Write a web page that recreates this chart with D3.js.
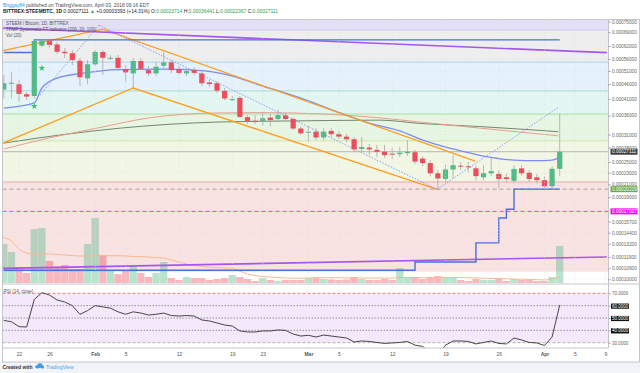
<!DOCTYPE html>
<html><head><meta charset="utf-8">
<script src="https://d3js.org/d3.v7.min.js"></script>
<style>
html,body{margin:0;padding:0;background:#fff;}
svg{display:block;font-family:"Liberation Sans",Arial,Helvetica,sans-serif;}
</style></head><body>
<svg id="chart" width="640" height="373"></svg>
<script>
// ================= DATA =================
// daily candles, 2018-01-20 .. 2018-04-03 (index 0 = Jan 20)
const open  = [0.000441,0.000464,0.000459,0.000425,0.000419,0.000621,0.000646,0.000627,0.000592,0.000585,
               0.000552,0.000481,0.000537,0.000591,0.000564,0.000565,0.000517,0.000500,0.000551,0.000513,
               0.000500,0.000531,0.000545,0.000517,0.000500,0.000513,0.000500,0.000466,0.000463,0.000436,
               0.000408,0.000413,0.000355,0.0003455,0.000345,0.000354,0.000350,0.000360,0.000350,0.000325,
               0.0003165,0.000317,0.000303,0.000319,0.000311,0.000305,0.000299,0.000277,0.000280,0.000275,
               0.000271,0.000267,0.000266,0.000268,0.000270,0.000257,0.000248,0.000229,0.000219,0.000236,
               0.000243,0.000242,0.000238,0.000222,0.000229,0.000228,0.000222,0.000216,0.000238,0.000230,
               0.000222,0.000217,0.000207,0.00023714];
const high  = [0.000494,0.000505,0.000475,0.000432,0.000649,0.000653,0.000651,0.000639,0.000610,0.000600,
               0.000564,0.000555,0.000600,0.000600,0.000577,0.000577,0.000534,0.000564,0.000564,0.000530,
               0.000546,0.000591,0.000555,0.000530,0.000521,0.000525,0.000509,0.000475,0.000471,0.000446,
               0.000419,0.000419,0.000361,0.000361,0.000370,0.000364,0.000376,0.000367,0.000355,0.000331,
               0.000331,0.000326,0.000326,0.000326,0.000319,0.000311,0.000304,0.000304,0.000288,0.000286,
               0.000286,0.000279,0.000281,0.000297,0.000275,0.000262,0.000254,0.000235,0.000246,0.000264,
               0.000250,0.000250,0.000244,0.000244,0.000258,0.000235,0.000228,0.000244,0.000244,0.000235,
               0.000228,0.000224,0.000242,0.00036441];
const low   = [0.000412,0.000412,0.000401,0.000406,0.000412,0.000614,0.000609,0.000582,0.000564,0.000534,
               0.000453,0.000460,0.000530,0.000494,0.000555,0.000513,0.000468,0.000446,0.000513,0.000490,
               0.000490,0.000521,0.000501,0.000494,0.000490,0.000494,0.000453,0.000449,0.000429,0.000406,
               0.000403,0.000353,0.000337,0.000337,0.000334,0.000331,0.000345,0.000345,0.000321,0.000309,
               0.000293,0.000297,0.000297,0.000304,0.000299,0.000292,0.000270,0.000270,0.000264,0.000260,
               0.000258,0.000256,0.000260,0.000262,0.000246,0.000242,0.000224,0.000201,0.000214,0.000221,
               0.000235,0.000231,0.000217,0.000217,0.000224,0.000204,0.000214,0.000212,0.000224,0.000214,
               0.000212,0.000204,0.000204,0.00022367];
const close = [0.000463,0.000465,0.000426,0.000417,0.000644,0.000646,0.000624,0.000592,0.000585,0.000555,
               0.000485,0.000537,0.000591,0.000565,0.000565,0.000522,0.000504,0.000551,0.000518,0.000500,
               0.000527,0.000545,0.000513,0.000502,0.000509,0.000502,0.000463,0.000460,0.000437,0.000411,
               0.000409,0.000356,0.000345,0.000345,0.000352,0.000347,0.000361,0.000350,0.000325,0.000313,
               0.000317,0.000303,0.000317,0.000311,0.000305,0.000299,0.000276,0.000281,0.000276,0.000271,
               0.000264,0.000265,0.000269,0.000271,0.000251,0.000248,0.000229,0.000220,0.000236,0.000244,
               0.0002425,0.000240,0.000224,0.000229,0.000233,0.000219,0.000219,0.000237,0.000229,0.000219,
               0.000217,0.000207,0.00023718,0.00027111];
const volume = [39,31,16,10,54,55,22,16,18,14,14,39,65,28,12,9,12,18,10,6,
                10,21,5,3,6,5,5,3,4,5,8,6,4,2,5,3,2,3,3,3,
                5,5,4,3.5,3,3.5,6,4,3,3,4,3,15,5,6,4,6,7,6,5,
                3,2,4,3,3,4,2,4,3,3,2,2,6,37];
const volumeMA = [45.5,42,34,30,29,29,29,28.5,28,27.5,27,27,27.5,27.5,27.3,27.3,27,26.5,26.3,26,
                  25.5,25,23,21,19,17.5,16.5,15.8,15.3,15,14.7,12,9,7.5,6.5,6,5.5,5,4.8,4.7,
                  5,5.3,5.3,5.3,5.2,5,5,5,5,5,5,5,5.5,5.5,5.5,5.3,5.3,5.5,5.5,5.5,
                  5.5,5.3,5,4.8,4.6,4.5,4.3,4,3.8,3.5,3.3,3,4.5,6];
const rsi = [48,47,43,42.7,65,70.5,68.6,64.6,63,60,53,56,60,59,58,55,53,55,54,52.4,
             53,54,52,51.6,52,51.6,48.4,47.6,46,44.3,43.5,39.5,38.7,38.7,39.5,39.5,40.3,40,37,35.4,
             36,34.6,36.2,35.4,34.6,33.8,30.6,31.4,31,30.2,29.4,29.8,30.2,31,28,27,22,20,28,31.4,
             31.4,31,29,30.2,31.4,29.4,29,33.8,32.2,30.2,29.8,27.7,34.6,60.5];
// TFMP systematic indicator channel (stepped), one value per day
const tfmpHigh = [0.000589,0.000589,0.000589,0.000589,0.000650,0.000650,0.000650,0.000650,0.000650,0.000650,
                  0.000650,0.000650,0.000650,0.000650,0.000650,0.000650,0.000650,0.000650,0.000650,0.000650,
                  0.000650,0.000650,0.000650,0.000650,0.000650,0.000650,0.000650,0.000650,0.000650,0.000650,
                  0.000650,0.000650,0.000650,0.000650,0.000650,0.000650,0.000650,0.000650,0.000650,0.000650,
                  0.000650,0.000650,0.000650,0.000650,0.000650,0.000650,0.000650,0.000650,0.000650,0.000650,
                  0.000650,0.000650,0.000650,0.000650,0.000650,0.000650,0.000650,0.000650,0.000650,0.000650,
                  0.000650,0.000650,0.000650,0.000650,0.000650,0.000650,0.000650,0.000650,0.000650,0.000650,
                  0.000650,0.000650,0.000650,0.000650];
const tfmpLow  = [0.0001073,0.0001073,0.0001073,0.0001073,0.0001073,0.0001073,0.0001073,0.0001073,0.0001073,0.0001073,
                  0.0001073,0.0001073,0.0001073,0.0001073,0.0001073,0.0001073,0.0001073,0.0001073,0.0001073,0.0001073,
                  0.0001073,0.0001073,0.0001073,0.0001073,0.0001073,0.0001073,0.0001073,0.0001073,0.0001073,0.0001073,
                  0.0001073,0.0001073,0.0001073,0.0001073,0.0001073,0.0001073,0.0001073,0.0001073,0.0001073,0.0001073,
                  0.0001073,0.0001073,0.0001073,0.0001073,0.0001073,0.0001073,0.0001073,0.0001073,0.0001073,0.0001073,
                  0.0001073,0.0001073,0.0001073,0.0001073,0.0001145,0.0001145,0.0001145,0.0001145,0.0001145,0.0001145,
                  0.0001145,0.0001145,0.0001329,0.0001329,0.0001329,0.0001615,0.0001729,0.00020229,0.00020229,0.00020229,
                  0.00020229,0.00020229,0.00020229,0.00020229];
// moving averages: [day index, price]
const maBlue = [[0,0.000381],[4,0.000397],[5,0.000446],[7,0.000482],[10,0.000499],[15,0.000515],[21,0.000517],
                [26,0.000511],[29,0.000497],[34,0.000453],[39,0.000412],[43,0.000377],[48,0.000339],[52,0.000319],
                [55,0.000297],[59,0.000277],[63,0.000262],[67,0.000254],[70,0.000253],[72,0.000254],[73,0.000260]];
const maSalmon = [[0,0.000277],[6,0.000302],[13,0.000329],[19,0.000353],[28,0.000367],[34,0.000368],[42,0.000364],
                  [49,0.000354],[55,0.000341],[62.5,0.000326],[72.8,0.000307]];
const maGray = [[0,0.000290],[7.4,0.000309],[15.3,0.000326],[28.4,0.000342],[38.9,0.000345],[49.4,0.000347],
                [54.7,0.000338],[62.5,0.000330],[72.8,0.000317]];
// drawn trend lines: [day index, price]
const orangeUpper = [[-0.1,0.000597],[13.0,0.000707],[61.9,0.000252]];
const orangeLower = [[-0.1,0.000290],[17.0,0.000446],[56.9,0.000202]];
const dottedLines = [[[4.75,0.000422],[12.5,0.000729]],[[12.5,0.000729],[56.9,0.000202]],[[56.9,0.000202],[72.8,0.000383]]];
const purpleLines = [[[-0.1,0.000713],[79.2,0.000588]],[[-0.1,0.0001089],[79.2,0.0001191]]];
const stars = [[4,0.000387],[5,0.000521]];
// coloured zones (price boundaries, top to bottom)
const zoneLevels = [0.000702,0.000546,0.000436,0.000364,0.000295,0.000214,0.000106];
const levelLines = [0.00027111,0.00020229,0.00017007];
const priceTicks = [0.00075,0.00069,0.00062,0.00056,0.00051,0.00046,0.00041,0.00036,0.00031,0.00028,
                    0.00025,0.00023,0.00021,0.00019,0.000157,0.000144,0.000132,0.000119,0.000109,0.0001];
const rsiTicks = [70,60,50,40,30];
const timeTicks = ["2018-01-22","2018-01-26","2018-02-01","2018-02-05","2018-02-12","2018-02-19","2018-02-23",
                   "2018-03-01","2018-03-05","2018-03-12","2018-03-19","2018-03-26","2018-04-01","2018-04-05","2018-04-09"];
const timeLabels = ["22","26","Feb","5","12","19","23","Mar","5","12","19","26","Apr","5","9"];

// ================= LAYOUT / STYLE =================
const L = 2.5, R = 608.5, T = 19.5, MT = 20, MB = 284, RB = 348, AB = 362;
const GREEN = "#53b987", RED = "#eb4d5c";
const zoneColors = ["#e3e0f6","#eeeeee","#e5f1fb","#e4f6f1","#e7f6e2","#f1f7e4","#f9e2e2","#ffffff"];
const zoneLineColors = ["#cfc9ee","#a9d2ef","#a6dbd0","#a8e0a6","#d3e4b2","#e9a9a9",null];

const svg = d3.select("#chart");
const day = d => new Date(Date.UTC(2018,0,20) + d*864e5);
const x = d3.scaleUtc().domain([new Date(Date.UTC(2018,0,19,12)), new Date(Date.UTC(2018,3,10))]).range([0, 613]);
const y = d3.scaleLog().domain([0.0000964, 0.000759]).range([MB, MT]);
const vy = d3.scaleLinear().domain([0, 100]).range([283, 183]);
const ry = d3.scaleLinear().domain([30, 70]).range([342.7, 293.3]);

svg.append("rect").attr("width",640).attr("height",373).attr("fill","#fff");
svg.append("rect").attr("x",0).attr("y",AB).attr("width",640).attr("height",373-AB).attr("fill","#f0f3f7");

const defs = svg.append("defs");
defs.append("clipPath").attr("id","mainClip").append("rect").attr("x",L).attr("y",MT).attr("width",R-L).attr("height",MB-MT);
defs.append("clipPath").attr("id","rsiClip").append("rect").attr("x",L).attr("y",MB).attr("width",R-L).attr("height",RB-MB);

const main = svg.append("g").attr("clip-path","url(#mainClip)");
// zones
const bounds = [y.domain()[1]].concat(zoneLevels).concat([y.domain()[0]]);
for (let i = 0; i < bounds.length-1; i++) {
  main.append("rect").attr("x",L).attr("width",R-L)
    .attr("y",y(bounds[i])).attr("height",y(bounds[i+1])-y(bounds[i])).attr("fill",zoneColors[i]);
}
// grid
const tDates = timeTicks.map(s => new Date(s+"T00:00:00Z"));
svg.append("g").selectAll("line").data(tDates).join("line")
  .attr("x1",d=>x(d)).attr("x2",d=>x(d)).attr("y1",MT).attr("y2",RB)
  .attr("stroke","#d9dbe0").attr("stroke-width",0.6).attr("stroke-dasharray","1,2");
main.selectAll("line.hg").data(priceTicks).join("line").attr("class","hg")
  .attr("x1",L).attr("x2",R).attr("y1",d=>y(d)).attr("y2",d=>y(d))
  .attr("stroke","#dcdcdc").attr("stroke-width",0.4).attr("stroke-dasharray","1,2");
zoneLevels.forEach((lv,i)=>{ if(zoneLineColors[i]) main.append("line").attr("x1",L).attr("x2",R)
  .attr("y1",y(lv)).attr("y2",y(lv)).attr("stroke",zoneLineColors[i]).attr("stroke-width",1); });

// volume
const bw = 7.3;
main.selectAll("rect.vol").data(volume).join("rect").attr("class","vol")
  .attr("x",(d,i)=>x(day(i))-bw/2).attr("width",bw)
  .attr("y",d=>vy(d)).attr("height",d=>vy(0)-vy(d))
  .attr("fill",(d,i)=>close[i]>=open[i]?GREEN:RED).attr("fill-opacity",0.4);
main.append("path").datum(volumeMA).attr("fill","none").attr("stroke","#f7b98f").attr("stroke-width",1)
  .attr("d",d3.line().x((d,i)=>x(day(i))).y(d=>vy(d)).curve(d3.curveMonotoneX));

// level lines
main.append("line").attr("x1",L).attr("x2",R).attr("y1",y(levelLines[0])).attr("y2",y(levelLines[0]))
  .attr("stroke","#a5a5a5").attr("stroke-width",0.8);
main.append("line").attr("x1",L).attr("x2",R).attr("y1",y(levelLines[1])).attr("y2",y(levelLines[1]))
  .attr("stroke","#9dab8f").attr("stroke-width",1).attr("stroke-dasharray","4,3");
main.append("line").attr("x1",L).attr("x2",R).attr("y1",y(levelLines[2])).attr("y2",y(levelLines[2]))
  .attr("stroke","#ff2bff").attr("stroke-width",1).attr("stroke-dasharray","4,3");

const pline = d3.line().x(d=>x(day(d[0]))).y(d=>y(d[1]));
const sline = d3.line().x(d=>x(day(d[0]))).y(d=>y(d[1])).curve(d3.curveMonotoneX);
main.append("path").attr("d",sline(maGray)).attr("fill","none").attr("stroke","#72866f").attr("stroke-width",1);
main.append("path").attr("d",sline(maSalmon)).attr("fill","none").attr("stroke","#eb9c8c").attr("stroke-width",1);
main.append("path").attr("d",sline(maBlue)).attr("fill","none").attr("stroke","#7d8cf2").attr("stroke-width",1.3);

// trend lines
main.append("path").attr("d",pline(orangeUpper)).attr("fill","none").attr("stroke","#ff9d1f").attr("stroke-width",1.3);
main.append("path").attr("d",pline(orangeLower)).attr("fill","none").attr("stroke","#ff9d1f").attr("stroke-width",1.3);
dottedLines.forEach(l=>main.append("path").attr("d",pline(l)).attr("fill","none")
  .attr("stroke","#8193f5").attr("stroke-width",0.9).attr("stroke-dasharray","1.5,1.5"));
purpleLines.forEach(l=>main.append("path").attr("d",pline(l)).attr("fill","none")
  .attr("stroke","#a555f0").attr("stroke-width",1.6));

// TFMP stepped channel
const step = d3.line().x((d,i)=>x(day(i))).y(d=>y(d)).curve(d3.curveStepAfter);
main.append("path").attr("d",step(tfmpHigh)).attr("fill","none").attr("stroke","#4770dd").attr("stroke-width",1.4);
main.append("path").attr("d",step(tfmpLow)).attr("fill","none").attr("stroke","#4770dd").attr("stroke-width",1.4);

// candles
const cw = 5.2;
const cg = main.append("g");
d3.range(open.length).forEach(i=>{
  const cx = x(day(i)), up = close[i]>=open[i], col = up?GREEN:RED;
  cg.append("line").attr("x1",cx).attr("x2",cx).attr("y1",y(high[i])).attr("y2",y(low[i]))
    .attr("stroke","#a7a7a7").attr("stroke-width",0.8);
  const top = y(Math.max(open[i],close[i])), bot = y(Math.min(open[i],close[i]));
  cg.append("rect").attr("x",cx-cw/2).attr("width",cw).attr("y",top).attr("height",Math.max(1,bot-top)).attr("fill",col);
});
main.selectAll("path.star").data(stars).join("path").attr("class","star")
  .attr("transform",d=>`translate(${x(day(d[0]))},${y(d[1])})`)
  .attr("d",d3.symbol(d3.symbolStar,14)).attr("fill","#3fbf5f");

// legend
const leg = svg.append("g").attr("font-size",4.5).attr("fill","#555");
leg.append("text").attr("x",6).attr("y",24.8).text("STEEM / Bitcoin, 1D, BITTREX");
leg.append("text").attr("x",6).attr("y",30.8).text("TFMP Systematic FT Indicator (200, 20, 100)");
leg.append("text").attr("x",6).attr("y",36.6).text("Vol (20)");

// ---- RSI pane
const rp = svg.append("g").attr("clip-path","url(#rsiClip)");
rp.append("rect").attr("x",L).attr("width",R-L).attr("y",ry(70)).attr("height",ry(30)-ry(70)).attr("fill","#f4e9fb");
rsiTicks.forEach(v=>{
  const st = v===70?["#f26b6b","3,2"]:v===30?["#9fb391","3,2"]:["#8d8397","1.5,1.5"];
  rp.append("line").attr("x1",L).attr("x2",R).attr("y1",ry(v)).attr("y2",ry(v))
    .attr("stroke",st[0]).attr("stroke-width",0.9).attr("stroke-dasharray",st[1]);
});
rp.append("path").datum(rsi).attr("fill","none").attr("stroke","#333").attr("stroke-width",0.9)
  .attr("d",d3.line().x((d,i)=>x(day(i))).y(d=>ry(d)));
svg.append("text").attr("x",3.5).attr("y",292.5).attr("font-size",4.5).attr("fill","#555").text("RSI (14, close)");

// ---- frame
const fr = svg.append("g").attr("stroke","#c3c6cc").attr("stroke-width",1).attr("fill","none");
fr.append("rect").attr("x",L).attr("y",T).attr("width",639.5-L).attr("height",AB-T);
fr.append("line").attr("x1",L).attr("x2",639.5).attr("y1",MB).attr("y2",MB);
fr.append("line").attr("x1",L).attr("x2",R).attr("y1",RB).attr("y2",RB);
fr.append("line").attr("x1",R).attr("x2",R).attr("y1",T).attr("y2",RB);

// ---- price axis
const pa = svg.append("g").attr("transform",`translate(${R},0)`)
  .call(d3.axisRight(y).tickValues(priceTicks).tickFormat(d3.format(".8f")).tickSize(2).tickPadding(1.5));
pa.select(".domain").remove();
pa.selectAll("text").attr("font-size",4.7).attr("fill","#666").attr("font-family",null);
pa.selectAll("line").attr("stroke","#999");
const boxBg = ["#3d3d3d","#6aaa4a","#ff00ff"];
levelLines.forEach((v,i)=>{
  const g = svg.append("g").attr("transform",`translate(${R+2},${y(v)})`);
  g.append("rect").attr("x",0).attr("y",-3).attr("width",27).attr("height",6).attr("fill",boxBg[i]);
  g.append("text").attr("x",1.5).attr("y",1.7).attr("font-size",4.7).attr("fill","#fff").text(d3.format(".8f")(v));
});
const ra = svg.append("g").attr("transform",`translate(${R},0)`)
  .call(d3.axisRight(ry).tickValues(rsiTicks).tickFormat(d3.format(".4f")).tickSize(2).tickPadding(1.5));
ra.select(".domain").remove();
ra.selectAll("line").attr("stroke","#999");
ra.selectAll("text").attr("font-size",4.5).attr("fill","#666").attr("font-family",null);
ra.selectAll(".tick").filter(d=>d>30&&d<70).insert("rect","text").attr("x",2.5).attr("y",-2.6).attr("width",18).attr("height",5.2).attr("fill","#111");
ra.selectAll(".tick").filter(d=>d>30&&d<70).select("text").attr("fill","#fff");

// ---- time axis
const ta = svg.append("g").attr("transform",`translate(0,${RB})`)
  .call(d3.axisBottom(x).tickValues(tDates).tickFormat((d,i)=>timeLabels[i]).tickSize(0).tickPadding(4.5));
ta.select(".domain").remove();
ta.selectAll("text").attr("font-size",5).attr("fill","#555").attr("font-family",null)
  .attr("font-weight",(d,i)=>isNaN(+timeLabels[i])?"bold":null);

// ---- header
const h1 = svg.append("text").attr("x",3).attr("y",6.8).attr("font-size",5).attr("fill","#4a4a4a");
h1.append("tspan").attr("fill","#2196f3").text("Briggsy84");
h1.append("tspan").text(" published on TradingView.com, April 03, 2018 09:16 EDT");
const h2 = svg.append("text").attr("x",3).attr("y",12.6).attr("font-size",5).attr("fill","#222");
h2.append("tspan").attr("font-weight","bold").text("BITTREX:STEEMBTC, 1D");
h2.append("tspan").text(" 0.00027111 ");
h2.append("tspan").attr("fill","#2ea04f").text("▲");
h2.append("tspan").text(" +0.00003393 (+14.31%) O:");
h2.append("tspan").attr("fill","#2ea04f").text("0.00023714");
h2.append("tspan").text(" H:");
h2.append("tspan").attr("fill","#2ea04f").text("0.00036441");
h2.append("tspan").text(" L:");
h2.append("tspan").attr("fill","#2ea04f").text("0.00022367");
h2.append("tspan").text(" C:");
h2.append("tspan").attr("fill","#2ea04f").text("0.00027111");
function fit(sel, w){ const n = sel.node(); const cur = n.getComputedTextLength(); const fs = +sel.attr("font-size"); sel.attr("font-size", fs*w/cur); }
fit(h1,147); fit(h2,276);

// ---- footer
svg.append("text").attr("x",2.5).attr("y",368.6).attr("font-size",5).attr("fill","#333").attr("font-weight","bold").text("Created with");
const logo = svg.append("g").attr("transform","translate(35,366)").attr("fill","#3d9be9");
logo.append("ellipse").attr("cx",2.5).attr("cy",0.8).attr("rx",2.5).attr("ry",1.6);
logo.append("ellipse").attr("cx",5).attr("cy",-0.4).attr("rx",2.6).attr("ry",2.3);
logo.append("ellipse").attr("cx",7.3).attr("cy",0.9).attr("rx",1.9).attr("ry",1.5);
svg.append("text").attr("x",46).attr("y",368.6).attr("font-size",5).attr("fill","#4aa3ea").text("TradingView");
</script>
</body></html>
